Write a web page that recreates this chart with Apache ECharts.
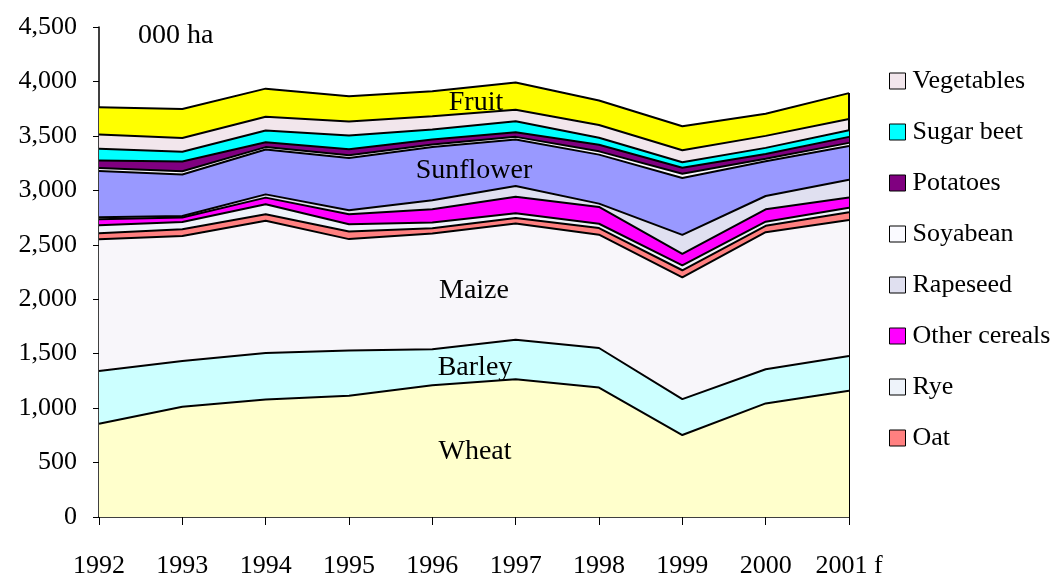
<!DOCTYPE html>
<html>
<head>
<meta charset="utf-8">
<script src="https://cdn.jsdelivr.net/npm/echarts@6/dist/echarts.min.js"></script>
<style>
  html, body { margin: 0; padding: 0; background: #fff; }
</style>
</head>
<body>
<div id="main" style="width: 1061px;height: 579px"></div>
<script type="text/javascript">
    // 年份 (x轴)
    var years = ['1992', '1993', '1994', '1995', '1996', '1997', '1998', '1999', '2000', '2001 f'];

    // 各作物面积, 000 ha (自下而上堆叠)
    var wheat        = [857, 1012, 1079, 1113, 1210, 1265, 1189, 753, 1043, 1159];
    var barley       = [483, 421, 427, 417, 330, 363, 363, 329, 314, 320];
    var maize        = [1210, 1147, 1214, 1022, 1064, 1067, 1041, 1119, 1259, 1248];
    var oat          = [57, 63, 60, 70, 48, 50, 60, 65, 58, 72];
    var rye          = [73, 67, 92, 67, 52, 45, 40, 45, 38, 42];
    var otherCereals = [55, 40, 61, 91, 122, 152, 155, 105, 114, 94];
    var rapeseed     = [17, 15, 30, 37, 82, 98, 30, 175, 122, 163];
    var sunflower    = [425, 381, 412, 480, 489, 426, 450, 522, 320, 310];
    var soyabean     = [28, 29, 22, 25, 24, 25, 30, 40, 23, 28];
    var potatoes     = [70, 90, 45, 55, 45, 43, 60, 55, 43, 55];
    var sugarBeet    = [106, 90, 108, 127, 92, 100, 65, 50, 56, 61];
    var vegetables   = [131, 125, 125, 128, 122, 107, 117, 110, 110, 104];
    var fruit        = [251, 267, 259, 231, 230, 250, 225, 220, 203, 237];

    var legendNames = ['Vegetables', 'Sugar beet', 'Potatoes', 'Soyabean', 'Rapeseed', 'Other cereals', 'Rye', 'Oat'];

    var layers = [
        ['Wheat', wheat, '#ffffcc'],
        ['Barley', barley, '#ccffff'],
        ['Maize', maize, '#f8f6fa'],
        ['Oat', oat, '#ff8080'],
        ['Rye', rye, '#eef3fa'],
        ['Other cereals', otherCereals, '#ff00ff'],
        ['Rapeseed', rapeseed, '#e0e0f0'],
        ['Sunflower', sunflower, '#9999ff'],
        ['Soyabean', soyabean, '#fafaff'],
        ['Potatoes', potatoes, '#800080'],
        ['Sugar beet', sugarBeet, '#00ffff'],
        ['Vegetables', vegetables, '#f2e6ec'],
        ['Fruit', fruit, '#ffff00']
    ];

    var last = years.length - 1;
    var total = 0;
    layers.forEach(function (l) { total += l[1][last]; });

    var font = 'Liberation Serif';

    // 下层的线画在上层面积之上, 所以 z 自上而下递增
    var series = layers.map(function (l, i) {
        var s = {
            name: l[0],
            type: 'line',
            stack: 'total',
            data: l[1],
            symbol: 'none',
            z: 2 + (layers.length - i),
            itemStyle: { color: l[2], borderColor: '#000', borderWidth: 1 },
            lineStyle: { color: '#000', width: 2 },
            areaStyle: { color: l[2], opacity: 1 }
        };
        if (l[0] === 'Fruit') {
            // 右侧边界竖线
            s.markLine = {
                silent: true,
                symbol: 'none',
                label: { show: false },
                lineStyle: { color: '#000', width: 2, type: 'solid' },
                data: [[{ coord: [years[last], 0] }, { coord: [years[last], total] }]]
            };
        }
        return s;
    });

    var myChart = echarts.init(document.getElementById('main'));

    var option = {
        animation: false,
        textStyle: { fontFamily: font, color: '#000' },
        grid: { left: 99, right: 212, top: 27, bottom: 60, containLabel: false },
        legend: {
            data: legendNames,
            orient: 'vertical',
            left: 884,
            top: 63,
            icon: 'rect',
            itemWidth: 16,
            itemHeight: 16,
            itemGap: 25,
            textStyle: { fontFamily: font, fontSize: 26, lineHeight: 26, color: '#000', padding: [0, 0, 0, 2] },
            itemStyle: { borderColor: '#000', borderWidth: 1 },
            selectedMode: false
        },
        xAxis: {
            type: 'category',
            data: years,
            boundaryGap: false,
            axisLine: { lineStyle: { color: '#000', width: 1.5 } },
            axisTick: { alignWithLabel: true, interval: 0, length: 8, lineStyle: { color: '#000' } },
            axisLabel: { fontFamily: font, fontSize: 26, color: '#000', margin: 36, interval: 0, hideOverlap: false },
            splitLine: { show: false }
        },
        yAxis: {
            type: 'value',
            min: 0,
            max: 4500,
            interval: 500,
            axisLine: { show: true, lineStyle: { color: '#000', width: 1.5 } },
            axisTick: { show: true, length: 6, lineStyle: { color: '#000' } },
            axisLabel: {
                fontFamily: font, fontSize: 26, color: '#000', margin: 22,
                formatter: function (v) { return v.toLocaleString('en-US'); }
            },
            splitLine: { show: false }
        },
        graphic: [
            { type: 'text', x: 138, y: 36, style: { text: '000 ha', font: '28px "Liberation Serif"', fill: '#000', verticalAlign: 'middle' } },
            { type: 'text', x: 476, y: 103, z: 100, style: { text: 'Fruit', font: '28px "Liberation Serif"', fill: '#000', align: 'center', verticalAlign: 'middle' } },
            { type: 'text', x: 474, y: 171, z: 100, style: { text: 'Sunflower', font: '28px "Liberation Serif"', fill: '#000', align: 'center', verticalAlign: 'middle' } },
            { type: 'text', x: 474, y: 291, z: 100, style: { text: 'Maize', font: '28px "Liberation Serif"', fill: '#000', align: 'center', verticalAlign: 'middle' } },
            { type: 'text', x: 475, y: 368, z: 100, style: { text: 'Barley', font: '28px "Liberation Serif"', fill: '#000', align: 'center', verticalAlign: 'middle' } },
            { type: 'text', x: 475, y: 452, z: 100, style: { text: 'Wheat', font: '28px "Liberation Serif"', fill: '#000', align: 'center', verticalAlign: 'middle' } }
        ],
        series: series
    };

    myChart.setOption(option);
</script>
</body>
</html>
